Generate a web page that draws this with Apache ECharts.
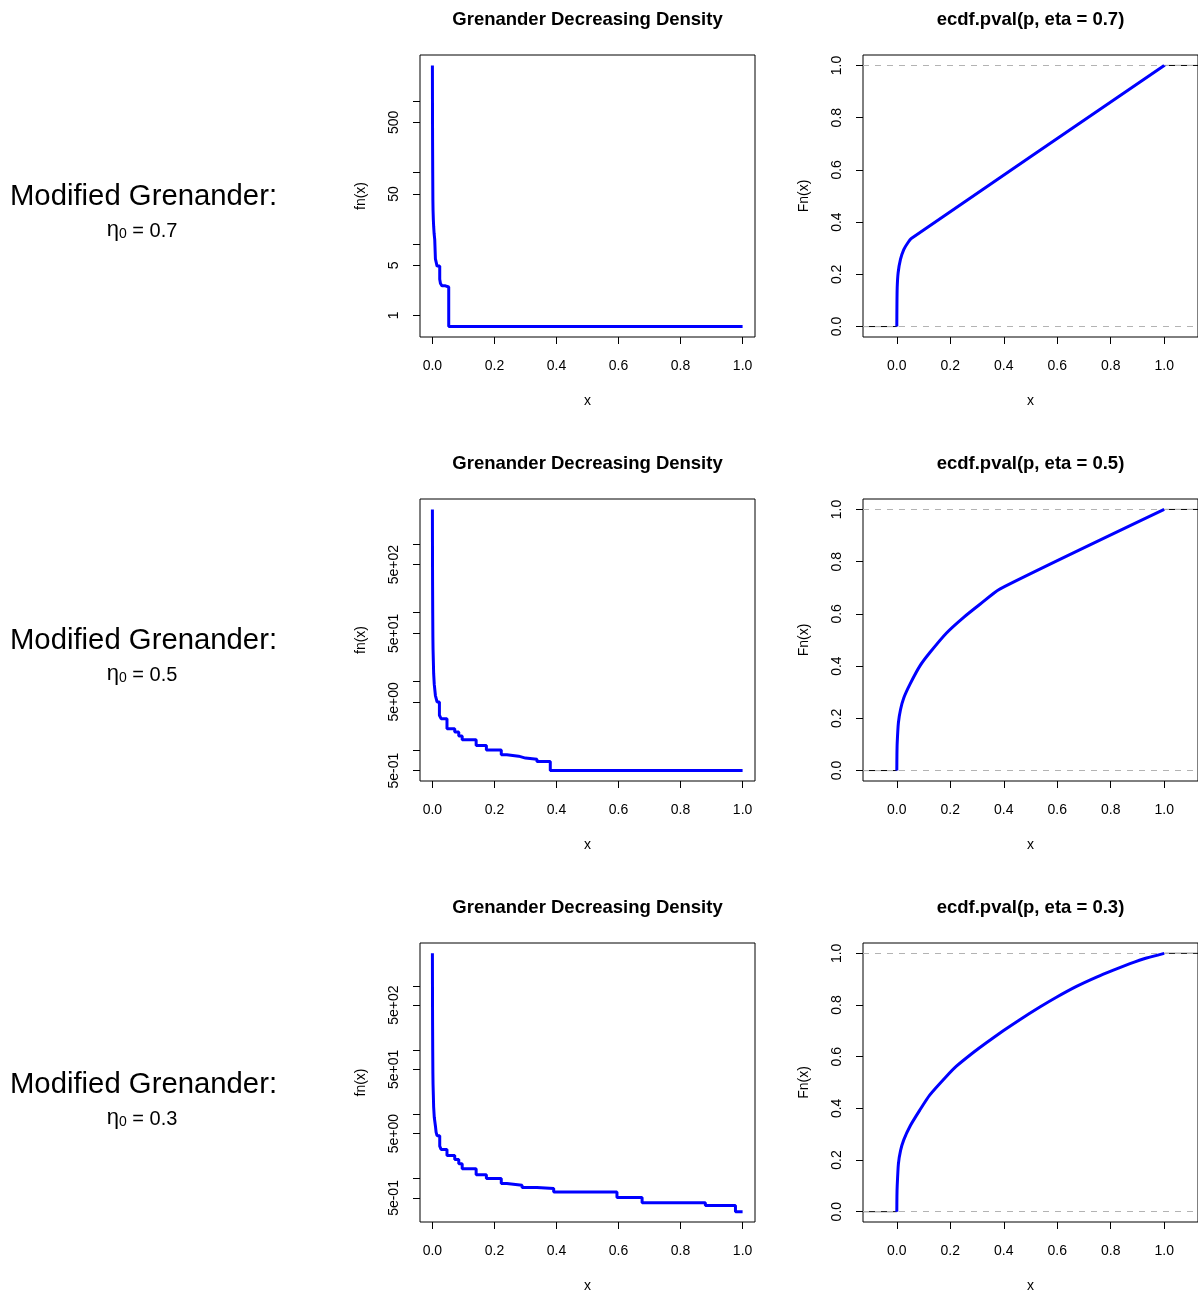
<!DOCTYPE html>
<html>
<head>
<meta charset="utf-8">
<script src="https://cdn.jsdelivr.net/npm/echarts@6/dist/echarts.min.js"></script>
<style>
html,body{margin:0;padding:0;background:#ffffff;}
#chart{width:1198px;height:1294px;}
</style>
</head>
<body>
<div id="chart"></div>
<script>
// ---------- data ----------
const etaValues = ['0.7', '0.5', '0.3'];
const densityTitle = 'Grenander Decreasing Density';
const ecdfTitles = ['ecdf.pval(p, eta = 0.7)', 'ecdf.pval(p, eta = 0.5)', 'ecdf.pval(p, eta = 0.3)'];

// Grenander density step function: value holds from knot i to knot i+1
const dens07X = [0, 0.0002, 0.0005, 0.001, 0.0015, 0.002, 0.003, 0.004, 0.0055, 0.0075, 0.0097, 0.015, 0.0236, 0.026, 0.031, 0.042, 0.0526, 1];
const dens07Y = [3130, 1000, 300, 100, 42, 30, 22, 17.7, 14, 11.5, 6.2, 4.9, 3.2, 2.8, 2.6, 2.5, 0.7, 0.7];

const dens05X = [0, 0.0002, 0.0005, 0.001, 0.0015, 0.002, 0.003, 0.004, 0.006, 0.0097, 0.015, 0.0226, 0.028, 0.047, 0.072, 0.085, 0.096, 0.141, 0.174, 0.222, 0.24, 0.278, 0.3, 0.337, 0.38, 1];
const dens05Y = [3190, 1000, 300, 100, 45, 30, 20, 13, 9, 6.2, 5.0, 3.2, 2.85, 2.04, 1.82, 1.59, 1.41, 1.16, 1.0, 0.85, 0.81, 0.76, 0.73, 0.68, 0.5, 0.5];

const dens03X = [0, 0.0002, 0.0005, 0.001, 0.0015, 0.002, 0.003, 0.004, 0.006, 0.0097, 0.012, 0.015, 0.0236, 0.028, 0.047, 0.072, 0.085, 0.096, 0.141, 0.174, 0.222, 0.24, 0.289, 0.337, 0.391, 0.595, 0.676, 0.88, 0.977, 1];
const dens03Y = [3200, 1000, 300, 100, 45, 30, 20, 13, 9, 6.6, 5.25, 4.66, 3.2, 2.85, 2.29, 1.99, 1.7, 1.43, 1.15, 1.0, 0.84, 0.79, 0.73, 0.70, 0.62, 0.51, 0.42, 0.38, 0.306, 0.306];

// ECDF of p-values
const ecdf07X = [0, 0.0005, 0.0015, 0.005, 0.0137, 0.026, 0.042, 0.054, 1];
const ecdf07Y = [0, 0.08, 0.15, 0.206, 0.257, 0.295, 0.322, 0.337, 1];

const ecdf05X = [0, 0.0005, 0.0015, 0.006, 0.014, 0.026, 0.049, 0.086, 0.123, 0.186, 0.248, 0.31, 0.385, 1];
const ecdf05Y = [0, 0.06, 0.106, 0.183, 0.234, 0.278, 0.33, 0.40, 0.451, 0.527, 0.585, 0.636, 0.695, 1];

const ecdf03X = [0, 0.0005, 0.0015, 0.006, 0.014, 0.026, 0.049, 0.086, 0.123, 0.186, 0.223, 0.286, 0.335, 0.398, 0.46, 0.535, 0.597, 0.672, 0.747, 0.81, 0.872, 0.934, 1];
const ecdf03Y = [0, 0.06, 0.1, 0.185, 0.236, 0.278, 0.33, 0.393, 0.451, 0.524, 0.563, 0.616, 0.654, 0.700, 0.743, 0.792, 0.830, 0.872, 0.908, 0.935, 0.960, 0.982, 1];

// tick values / labels
const densLogTicksTop = [1, 5, 10, 50, 100, 500, 1000];
const densLogLabelsTop = [1, 5, 50, 500];
const densLogTicks = [0.5, 1, 5, 10, 50, 100, 500, 1000];
const densLogLabels = [0.5, 5, 50, 500];
const xTicks = [0, 0.2, 0.4, 0.6, 0.8, 1.0];
const ecdfYTicks = [0, 0.2, 0.4, 0.6, 0.8, 1.0];

// ---------- layout ----------
const FONT = '"Liberation Sans", Arial, Helvetica, sans-serif';
const rowTops = [55, 499, 943];
const rowH = 282;
const densLeft = 420, ecdfLeft = 863, plotW = 335;
const densXRange = [-0.04, 1.04];
const ecdfXRange = [-0.1264, 1.1264];
const ecdfYRange = [-0.04, 1.04];

const densSets = [
  {x: dens07X, y: dens07Y, ticks: densLogTicksTop, labels: densLogLabelsTop, sci: false},
  {x: dens05X, y: dens05Y, ticks: densLogTicks, labels: densLogLabels, sci: true},
  {x: dens03X, y: dens03Y, ticks: densLogTicks, labels: densLogLabels, sci: true}
];
const ecdfSets = [
  {x: ecdf07X, y: ecdf07Y},
  {x: ecdf05X, y: ecdf05Y},
  {x: ecdf03X, y: ecdf03Y}
];

function sciFmt(v) {
  const e = Math.floor(Math.log10(v) + 1e-9);
  const m = Math.round(v / Math.pow(10, e));
  const ae = Math.abs(e);
  return m + 'e' + (e < 0 ? '-' : '+') + (ae < 10 ? '0' : '') + ae;
}
function logRange(vals) {
  const lo = Math.log10(Math.min.apply(null, vals));
  const hi = Math.log10(Math.max.apply(null, vals));
  const d = 0.04 * (hi - lo);
  return [Math.pow(10, lo - d), Math.pow(10, hi + d)];
}

const tickStyle = {show: true, inside: false, length: 7, lineStyle: {color: '#000', width: 1}};
const labelStyle = {color: '#000', fontSize: 14, fontFamily: FONT};
const hiddenLine = {show: false, onZero: false};

const grids = [], xAxes = [], yAxes = [], series = [], graphics = [];

for (let r = 0; r < 3; r++) {
  const top = rowTops[r];
  const ds = densSets[r];
  const es = ecdfSets[r];
  const gi = r * 2, ge = r * 2 + 1;

  grids.push({left: densLeft, top: top, width: plotW, height: rowH, show: true,
    borderColor: '#000', borderWidth: 1, backgroundColor: 'transparent', containLabel: false});
  grids.push({left: ecdfLeft, top: top, width: plotW, height: rowH, show: true,
    borderColor: '#000', borderWidth: 1, backgroundColor: 'transparent', containLabel: false});

  // density axes
  xAxes.push({type: 'value', gridIndex: gi, position: 'bottom', min: densXRange[0], max: densXRange[1],
    axisLine: hiddenLine, splitLine: {show: false},
    axisTick: Object.assign({customValues: xTicks}, tickStyle),
    axisLabel: Object.assign({customValues: xTicks, margin: 22, formatter: v => v.toFixed(1)}, labelStyle),
    name: 'x', nameLocation: 'middle', nameGap: 57, nameTextStyle: labelStyle});
  const lr = logRange(ds.y);
  yAxes.push({type: 'log', logBase: 10, gridIndex: gi, position: 'left', min: lr[0], max: lr[1],
    axisLine: hiddenLine, splitLine: {show: false}, minorTick: {show: false},
    axisTick: Object.assign({customValues: ds.ticks}, tickStyle),
    axisLabel: Object.assign({customValues: ds.labels, rotate: 90, margin: 19,
      formatter: ds.sci ? (v => sciFmt(v)) : (v => String(Math.round(v)))}, labelStyle),
    name: 'fn(x)', nameLocation: 'middle', nameGap: 52, nameTextStyle: labelStyle});

  // ecdf axes
  xAxes.push({type: 'value', gridIndex: ge, position: 'bottom', min: ecdfXRange[0], max: ecdfXRange[1],
    axisLine: hiddenLine, splitLine: {show: false},
    axisTick: Object.assign({customValues: xTicks}, tickStyle),
    axisLabel: Object.assign({customValues: xTicks, margin: 22, formatter: v => v.toFixed(1)}, labelStyle),
    name: 'x', nameLocation: 'middle', nameGap: 57, nameTextStyle: labelStyle});
  yAxes.push({type: 'value', gridIndex: ge, position: 'left', min: ecdfYRange[0], max: ecdfYRange[1],
    axisLine: hiddenLine, splitLine: {show: false},
    axisTick: Object.assign({customValues: ecdfYTicks}, tickStyle),
    axisLabel: Object.assign({customValues: ecdfYTicks, rotate: 90, margin: 19, formatter: v => v.toFixed(1)}, labelStyle),
    name: 'Fn(x)', nameLocation: 'middle', nameGap: 52, nameTextStyle: labelStyle});

  // density series
  series.push({type: 'line', xAxisIndex: gi, yAxisIndex: gi, step: 'end', showSymbol: false,
    symbol: 'none', clip: true, z: 6,
    lineStyle: {color: '#0000ff', width: 3},
    data: ds.x.map((x, i) => [x, ds.y[i]])});

  // ecdf: black extensions of the step function beyond the data
  const n = es.x.length;
  series.push({type: 'line', xAxisIndex: ge, yAxisIndex: ge, showSymbol: false, symbol: 'none', z: 2,
    lineStyle: {color: '#000', width: 1},
    data: [[ecdfXRange[0], es.y[0]], [es.x[0], es.y[0]]],
    markLine: {silent: true, symbol: ['none', 'none'], animation: false, z: 4,
      label: {show: false},
      lineStyle: {color: '#b3b3b3', type: [6, 6], width: 1},
      data: [{yAxis: es.y[0]}, {yAxis: es.y[n - 1]}]}});
  series.push({type: 'line', xAxisIndex: ge, yAxisIndex: ge, showSymbol: false, symbol: 'none', z: 2,
    lineStyle: {color: '#000', width: 1},
    data: [[es.x[n - 1], es.y[n - 1]], [ecdfXRange[1], es.y[n - 1]]]});
  // ecdf blue curve
  series.push({type: 'line', xAxisIndex: ge, yAxisIndex: ge, showSymbol: false, symbol: 'none', z: 6,
    smooth: 0.2, lineStyle: {color: '#0000ff', width: 3},
    data: es.x.map((x, i) => [x, es.y[i]])});

  // texts
  graphics.push({type: 'text', x: densLeft + plotW / 2, y: top - 35,
    style: {text: densityTitle, fontSize: 18.5, fontWeight: 'bold', fontFamily: FONT, fill: '#000',
      align: 'center', verticalAlign: 'middle'}});
  graphics.push({type: 'text', x: ecdfLeft + plotW / 2, y: top - 35,
    style: {text: ecdfTitles[r], fontSize: 18.5, fontWeight: 'bold', fontFamily: FONT, fill: '#000',
      align: 'center', verticalAlign: 'middle'}});
  graphics.push({type: 'text', x: 143.5, y: top + 142,
    style: {text: 'Modified Grenander:', fontSize: 29.3, fontFamily: FONT, fill: '#000',
      align: 'center', verticalAlign: 'middle'}});
  graphics.push({type: 'text', x: 142, y: top + 174,
    style: {text: '{g|η}{s|0}{e| = ' + etaValues[r] + '}', fontFamily: FONT, fill: '#000',
      align: 'center', verticalAlign: 'middle',
      rich: {
        g: {fontSize: 22, fontFamily: FONT, fill: '#000', lineHeight: 24, verticalAlign: 'bottom'},
        e: {fontSize: 20, fontFamily: FONT, fill: '#000', lineHeight: 24, verticalAlign: 'bottom'},
        s: {fontSize: 14, fontFamily: FONT, fill: '#000', lineHeight: 18, verticalAlign: 'bottom'}
      }}});
}

const chart = echarts.init(document.getElementById('chart'), null, {renderer: 'canvas'});
chart.setOption({
  animation: false,
  backgroundColor: '#ffffff',
  textStyle: {fontFamily: FONT},
  grid: grids,
  xAxis: xAxes,
  yAxis: yAxes,
  series: series,
  graphic: graphics
});
</script>
</body>
</html>
